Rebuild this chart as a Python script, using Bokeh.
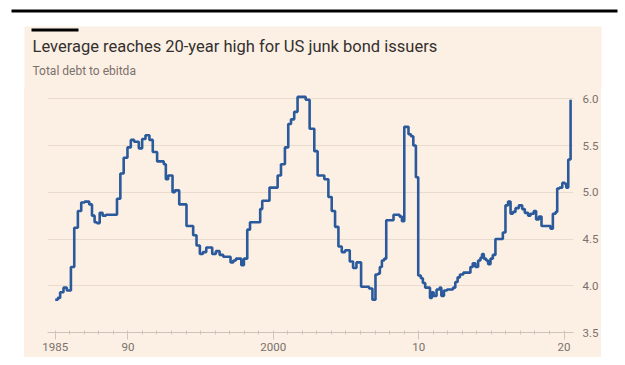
from bokeh.plotting import figure
from bokeh.layouts import column, row
from bokeh.models import Range1d, FixedTicker, BoxAnnotation, Label, NumeralTickFormatter, Spacer
from bokeh.embed import file_html
from bokeh.resources import INLINE

# Quarterly-ish readings of US high-yield issuer leverage (total debt / ebitda)
dates = [
    1985.00, 1985.18, 1985.34, 1985.57, 1985.80, 1986.08, 1986.31, 1986.56, 1986.79, 1987.02,
    1987.34, 1987.53, 1987.71, 1987.87, 1988.06, 1988.26, 1988.49, 1989.25, 1989.48, 1989.71,
    1989.97, 1990.20, 1990.43, 1990.75, 1990.98, 1991.21, 1991.48, 1991.71, 1992.01, 1992.47,
    1992.61, 1992.77, 1993.07, 1993.23, 1993.53, 1994.03, 1994.49, 1994.72, 1994.95, 1995.16,
    1995.39, 1995.80, 1996.05, 1996.31, 1996.56, 1997.06, 1997.25, 1997.43, 1997.80, 1997.98,
    1998.21, 1998.40, 1999.10, 1999.24, 1999.74, 2000.30, 2000.53, 2000.80, 2001.03, 2001.22,
    2001.44, 2001.67, 2002.23, 2002.50, 2002.82, 2003.05, 2003.51, 2003.79, 2004.02, 2004.25,
    2004.48, 2004.71, 2004.94, 2005.26, 2005.49, 2005.72, 2006.04, 2006.59, 2006.82, 2007.03,
    2007.21, 2007.33, 2007.47, 2007.63, 2007.77, 2008.27, 2008.69, 2008.85, 2009.01, 2009.30,
    2009.47, 2009.63, 2009.81, 2009.97, 2010.15, 2010.29, 2010.45, 2010.78, 2010.91, 2011.03,
    2011.23, 2011.44, 2011.56, 2011.74, 2011.95, 2012.36, 2012.52, 2012.68, 2012.84, 2013.07,
    2013.56, 2013.72, 2013.90, 2014.09, 2014.25, 2014.36, 2014.48, 2014.64, 2014.78, 2014.94,
    2015.10, 2015.28, 2015.79, 2015.97, 2016.15, 2016.32, 2016.48, 2016.66, 2016.89, 2017.12,
    2017.30, 2017.53, 2017.69, 2017.92, 2018.08, 2018.27, 2018.45, 2019.07, 2019.23, 2019.42,
    2019.53, 2019.69, 2019.88, 2020.06, 2020.15, 2020.29, 2020.45,
]
leverage = [
    3.85, 3.87, 3.93, 3.98, 3.95, 4.20, 4.62, 4.80, 4.89, 4.90,
    4.87, 4.75, 4.68, 4.67, 4.78, 4.75, 4.76, 4.93, 5.20, 5.37,
    5.48, 5.56, 5.54, 5.47, 5.57, 5.61, 5.56, 5.43, 5.33, 5.30,
    5.14, 5.18, 5.00, 5.02, 4.87, 4.64, 4.54, 4.43, 4.34, 4.36,
    4.41, 4.34, 4.37, 4.33, 4.31, 4.25, 4.27, 4.29, 4.22, 4.29,
    4.60, 4.68, 4.82, 4.91, 5.05, 5.18, 5.30, 5.48, 5.73, 5.78,
    5.86, 6.02, 5.99, 5.68, 5.44, 5.18, 5.14, 4.95, 4.80, 4.63,
    4.42, 4.36, 4.38, 4.26, 4.19, 4.25, 3.99, 3.97, 3.85, 4.12,
    4.13, 4.20, 4.27, 4.29, 4.70, 4.76, 4.74, 4.69, 5.70, 5.62,
    5.60, 5.50, 5.16, 4.11, 4.08, 4.03, 3.98, 3.87, 3.93, 3.89,
    3.96, 3.98, 3.89, 3.95, 3.96, 3.98, 4.04, 4.09, 4.12, 4.14,
    4.20, 4.24, 4.20, 4.27, 4.30, 4.34, 4.29, 4.27, 4.23, 4.29,
    4.33, 4.50, 4.57, 4.86, 4.90, 4.77, 4.79, 4.83, 4.86, 4.82,
    4.78, 4.75, 4.77, 4.80, 4.71, 4.74, 4.64, 4.61, 4.77, 4.79,
    5.04, 5.05, 5.10, 5.09, 5.05, 5.35, 5.99,
]

year_ticks = [1985, 1990, 2000, 2010, 2020]
year_labels = ["1985", "90", "2000", "10", "20"]
value_ticks = [3.5, 4.0, 4.5, 5.0, 5.5, 6.0]

title_text = "Leverage reaches 20-year high for US junk bond issuers"
subtitle_text = "Total debt to ebitda"

PAPER = "#fcefe4"
INK = "#33302e"
MUTED = "#7a716b"
GRID = "#eadbcf"
AXIS = "#cfc4ba"
LINE = "#2a5a9b"
FONT = "Roboto"

# ---- header: rules, title and subtitle (pixel-space canvas, y grows downward)
head = figure(
    width=625, height=88, output_backend="svg", toolbar_location=None,
    x_range=Range1d(0, 625), y_range=Range1d(88, 0),
    x_axis_type=None, y_axis_type=None, min_border=0,
)
head.outline_line_color = None
head.border_fill_color = "white"
head.background_fill_color = "white"
head.xgrid.visible = False
head.ygrid.visible = False

head.add_layout(BoxAnnotation(left=24, right=601, top=26, bottom=100,
                              fill_color=PAPER, fill_alpha=1, line_color=None))
head.add_layout(BoxAnnotation(left=11, right=617, top=9, bottom=12,
                              fill_color="black", fill_alpha=1, line_color=None))
head.add_layout(BoxAnnotation(left=31, right=78, top=28, bottom=31,
                              fill_color="black", fill_alpha=1, line_color=None))
head.add_layout(Label(x=32, y=46, text=title_text, text_font=FONT,
                      text_font_size="16.5px", text_color=INK, text_baseline="middle"))
head.add_layout(Label(x=32, y=70, text=subtitle_text, text_font=FONT,
                      text_font_size="12px", text_color=MUTED, text_baseline="middle"))

# ---- chart
p = figure(
    width=577, height=269, output_backend="svg", toolbar_location=None,
    x_range=Range1d(1984.47, 2020.65), y_range=Range1d(3.5, 6.11),
    min_border_left=23, min_border_right=28, min_border_top=0, min_border_bottom=25,
    y_axis_location="right",
)
p.styles = {"background-color": PAPER}
p.border_fill_color = PAPER
p.background_fill_color = PAPER
p.outline_line_color = None

p.step(dates, leverage, mode="after", line_color=LINE, line_width=2.6)

# x axis: labelled years with long ticks, every year with a short tick
xa = p.xaxis[0]
xa.ticker = FixedTicker(ticks=year_ticks, minor_ticks=list(range(1985, 2021)))
xa.major_label_overrides = {t: s for t, s in zip(year_ticks, year_labels)}
xa.axis_line_color = AXIS
xa.major_tick_line_color = AXIS
xa.minor_tick_line_color = AXIS
xa.major_tick_in = 0
xa.major_tick_out = 7
xa.minor_tick_in = 2
xa.minor_tick_out = 2
xa.major_label_text_font = FONT
xa.major_label_text_font_size = "11.5px"
xa.major_label_text_color = MUTED
xa.major_label_standoff = 3

ya = p.yaxis[0]
ya.ticker = FixedTicker(ticks=value_ticks)
ya.formatter = NumeralTickFormatter(format="0.0")
ya.axis_line_color = None
ya.major_tick_line_color = None
ya.minor_tick_line_color = None
ya.major_label_text_font = FONT
ya.major_label_text_font_size = "11.5px"
ya.major_label_text_color = MUTED
ya.major_label_standoff = 3

p.xgrid.grid_line_color = None
p.ygrid.ticker = FixedTicker(ticks=value_ticks)
p.ygrid.grid_line_color = GRID
p.ygrid.grid_line_width = 1

page = column(head, row(Spacer(width=24, height=269), p, spacing=0), spacing=0)

open("out.html", "w").write(file_html(page, INLINE))
